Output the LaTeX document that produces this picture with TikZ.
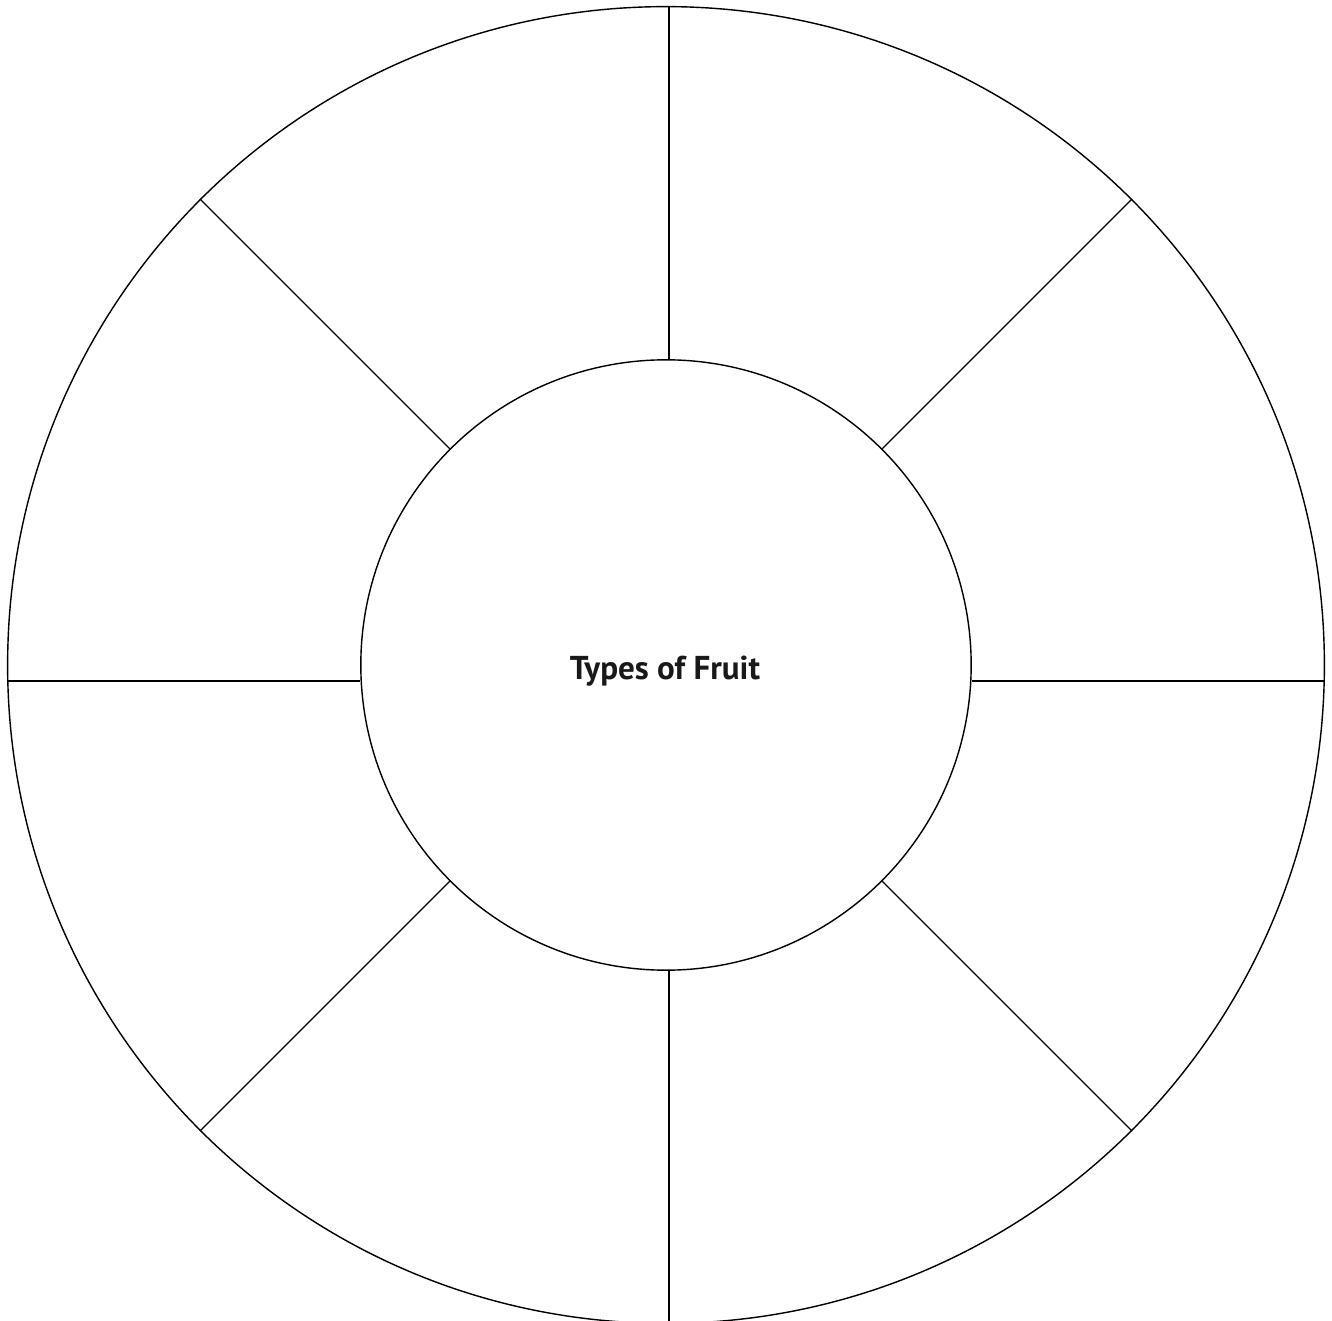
\documentclass[tikz,border=0pt]{standalone}
\usepackage{fontspec}
\setmainfont{PT Sans}
\usepackage{tikz}
\usetikzlibrary{positioning,calc}
\tikzset{
  rimnode/.style={circle,draw=black,line width=0.4pt,minimum size=13.16cm,inner sep=0pt},
  hubnode/.style={circle,draw=black,line width=0.4pt,minimum size=6.10cm,inner sep=0pt},
  titlenode/.style={font=\fontsize{9.4pt}{10pt}\selectfont\bfseries,text=black!90,inner sep=0pt},
  spoke/.style={draw=black,line width=0.4pt},
}

\begin{document}
\begin{tikzpicture}[x=0.01cm,y=-0.01cm]

  \useasboundingbox (0,0) rectangle (1332,1321);

  %% ── Wheel: outer rim and hub ──────────────────────────────────────────────
  \node[rimnode] (rim) at (666,665) {};
  \node[hubnode] (hub) at (666,665) {};
  \node[titlenode] (title) at (665,671) {Types of Fruit};

  %% ── Spokes ────────────────────────────────────────────────────────────────
  \draw[spoke] ([xshift=0.03cm]hub.north) -- ([xshift=0.03cm]rim.north);
  \draw[spoke] ([xshift=0.03cm]hub.south) -- ([xshift=0.03cm]rim.south);
  \draw[spoke] ([yshift=-0.16cm]hub.west) -- ([yshift=-0.16cm]rim.west);
  \draw[spoke] ([yshift=-0.16cm]hub.east) -- ([yshift=-0.16cm]rim.east);
  \foreach \a in {45,135,225,315}
    \draw[spoke] (hub.\a) -- (rim.\a);

\end{tikzpicture}
\end{document}
